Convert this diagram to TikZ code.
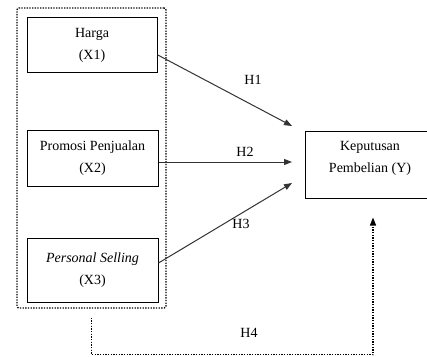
\documentclass[tikz,border=0pt]{standalone}
\usepackage{fontspec}
\setmainfont{Liberation Serif}
\usetikzlibrary{arrows.meta}

\tikzset{
  varbox/.style={draw, line width=0.75pt, align=center, font=\fontsize{10.5}{16}\selectfont},
  grpbox/.style={draw, line width=1pt, dash pattern=on 1pt off 1pt, rounded corners=1.5pt},
  hyp/.style={draw=black!80, line width=0.75pt, -{Triangle[length=6pt,width=4.5pt]}},
  hyplbl/.style={font=\fontsize{10.5}{12}\selectfont, inner sep=0.75pt},
}

\begin{document}
\begin{tikzpicture}[x=0.75pt,y=0.75pt,yscale=-1,xscale=1]
\useasboundingbox (0,0) rectangle (427,356);
\clip (0,0) rectangle (427,356);

%Shape: dotted group box
\node [grpbox, minimum width=111.75pt, minimum height=225pt] (grp) at (91.5,158) {};

%Shape: variable boxes
\node [varbox, minimum width=97.5pt, minimum height=41.25pt] (x1) at (92,45.5) {Harga\\(X1)};
\node [varbox, minimum width=98.25pt, minimum height=42pt] (x2) at (92.5,158) {Promosi Penjualan\\(X2)};
\node [varbox, minimum width=98.25pt, minimum height=48pt] (x3) at (92.5,270) {\textit{Personal Selling}\\(X3)};

%Shape: dependent box
\node [draw, line width=0.75pt, minimum width=102pt, minimum height=50.25pt] (y) at (373,164.5) {};
% Text Node
\node [align=center, font=\fontsize{10.5}{16}\selectfont] (ytxt) at (370,158.5) {Keputusan\\Pembelian (Y)};

%Arrow ends
\coordinate (t1) at (292,126);
\coordinate (t2) at (292,162);
\coordinate (t3) at (292,183);

%Straight Lines
\draw [hyp] ([yshift=7pt]x1.east) -- (t1);
\draw [hyp] ([yshift=3pt]x2.east) -- (t2);
\draw [hyp] ([yshift=-5.25pt]x3.east) -- (t3);

%Dotted path H4
\draw [line width=1pt, dash pattern=on 1pt off 1pt, -{Triangle[length=6pt,width=4.5pt]}]
  ([yshift=6.75pt]grp.south) -- ++(0,37) -| ([yshift=14.25pt]y.south);

% Text Node
\node [hyplbl] (h1) at (253,80) {H1};
% Text Node
\node [hyplbl] (h2) at (245,152) {H2};
% Text Node
\node [hyplbl] (h3) at (241,224) {H3};
% Text Node
\node [hyplbl] (h4) at (249,333) {H4};

\end{tikzpicture}
\end{document}
